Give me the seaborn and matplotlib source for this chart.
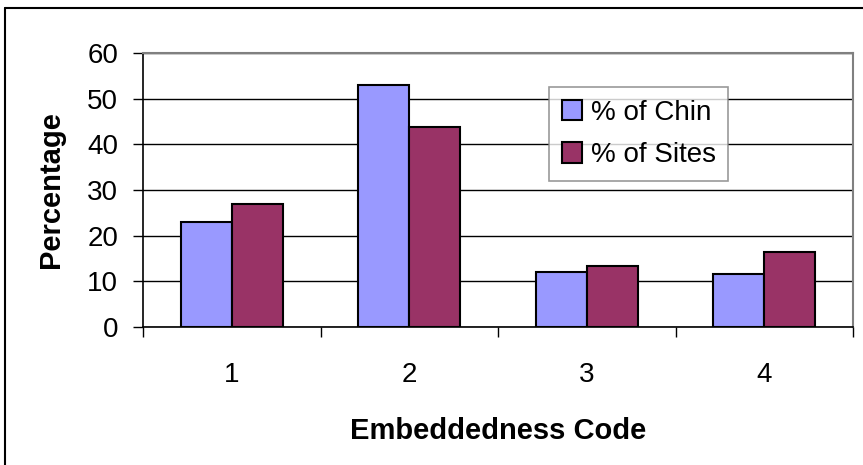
import pandas as pd
import matplotlib
matplotlib.use("Agg")
import matplotlib.pyplot as plt
import seaborn as sns
from matplotlib.lines import Line2D

codes = ["1", "2", "3", "4"]
chin = [23, 53, 12.1, 11.6]
sites = [26.9, 43.8, 13.4, 16.5]
series = ["% of Chin", "% of Sites"]
colors = ["#9999FF", "#993366"]

df = pd.DataFrame({
    "code": codes * 2,
    "value": chin + sites,
    "series": [series[0]] * 4 + [series[1]] * 4,
})

sns.set_theme(style="white")
plt.rcParams["font.family"] = ["Liberation Sans", "DejaVu Sans"]
plt.rcParams["text.color"] = "black"
plt.rcParams["axes.labelcolor"] = "black"
plt.rcParams["xtick.color"] = "black"
plt.rcParams["ytick.color"] = "black"

fig = plt.figure(figsize=(8.63, 4.65), dpi=100)
ax = fig.add_axes([143 / 863, 1 - 327 / 465, 710 / 863, 274 / 465])

sns.barplot(data=df, x="code", y="value", hue="series", palette=colors,
            width=0.575, gap=0, edgecolor="black", linewidth=1.5, ax=ax,
            saturation=1, zorder=3)

ax.set_ylim(0, 60)
ax.set_xlim(-0.5, 3.5)
ax.set_yticks(range(0, 61, 10))
ax.yaxis.grid(True, color="black", linewidth=1)
ax.set_axisbelow(True)

# ticks between categories on the x axis
ax.set_xticks([-0.5, 0.5, 1.5, 2.5, 3.5], minor=True)
ax.tick_params(axis="x", which="major", length=0, labelsize=20, pad=25)
ax.tick_params(axis="x", which="minor", length=7, width=1, color="black",
               direction="out", bottom=True)
ax.tick_params(axis="y", length=7, width=1, color="black", direction="out",
               left=True, labelsize=20, pad=11)

for s in ["top", "right"]:
    ax.spines[s].set_color("#808080")
    ax.spines[s].set_linewidth(1.5)
for s in ["left", "bottom"]:
    ax.spines[s].set_color("black")
    ax.spines[s].set_linewidth(1.2)

ax.set_xlabel("Embeddedness Code", fontsize=21, fontweight="bold", labelpad=21)
ax.set_ylabel("Percentage", fontsize=21, fontweight="bold", labelpad=16)

handles, labels = ax.get_legend_handles_labels()
leg = ax.legend(handles, labels, loc="upper left",
                bbox_to_anchor=((549 - 143) / 710, (327 - 87) / 274),
                fontsize=20, frameon=True, fancybox=False, edgecolor="#808080",
                borderaxespad=0, handlelength=0.75, handleheight=0.75,
                handletextpad=0.3, labelspacing=0.6, borderpad=0.45)
leg.get_frame().set_linewidth(1.2)

# outer chart frame
fig.add_artist(Line2D([5 / 863, 5 / 863], [0, 1 - 8 / 465], color="black", lw=1.5))
fig.add_artist(Line2D([5 / 863, 1], [1 - 8 / 465, 1 - 8 / 465], color="black", lw=1.5))

fig.savefig("out.png", dpi=100)
